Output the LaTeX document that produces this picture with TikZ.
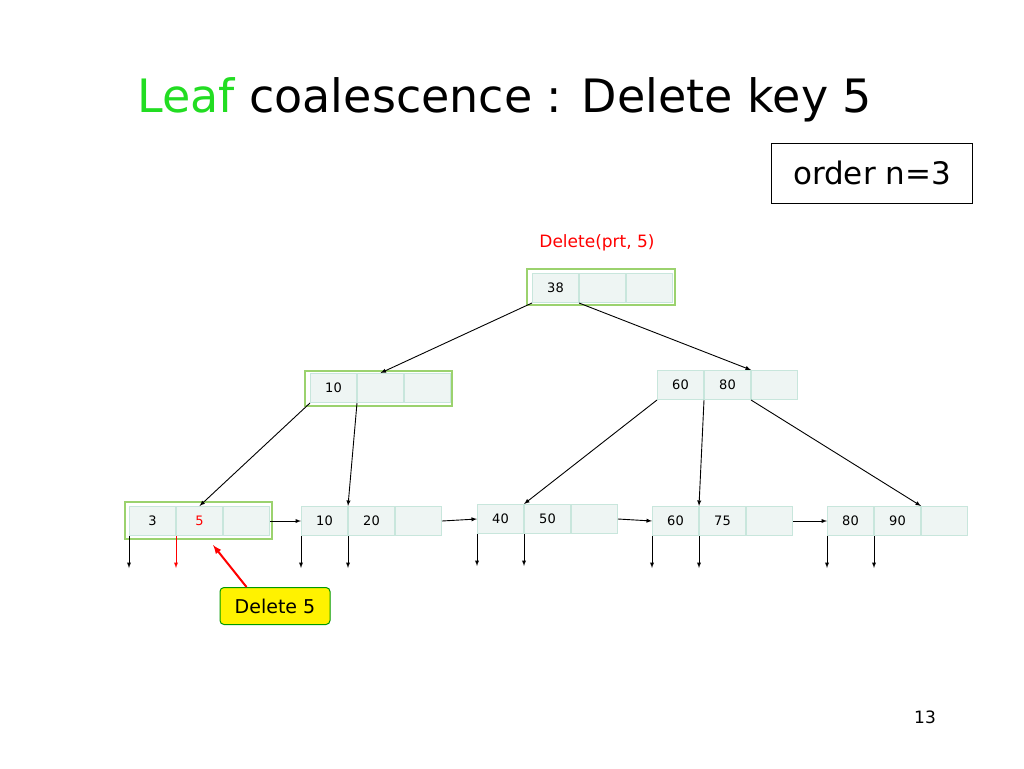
\documentclass[tikz,border=0pt]{standalone}
\usepackage{fontspec}
\setmainfont{DejaVu Sans}
\usetikzlibrary{positioning,calc}
\definecolor{cellfill}{HTML}{EEF5F3}
\definecolor{cellline}{HTML}{C8E6DC}
\definecolor{framegreen}{HTML}{9BD26E}
\definecolor{leafgreen}{HTML}{22DD22}
\tikzset{
  cell/.style={draw=cellline, fill=cellfill, line width=1pt, minimum width=46pt, minimum height=29pt, inner sep=0pt, font=\fontsize{13}{13}\selectfont},
  frame/.style={draw=framegreen, line width=1.2pt},
  ptr/.style={-latex, line width=0.9pt},
}
% three-key node: name, x, y, key1, key2
\newcommand{\keynode}[5]{%
  \node[cell, anchor=north west] (#1-1) at (#2,#3) {#4};
  \node[cell, right=0pt of #1-1] (#1-2) {#5};
  \node[cell, right=0pt of #1-2] (#1-3) {};
}
\begin{document}
\begin{tikzpicture}[x=1pt, y=-1pt]
  \useasboundingbox (0,0) rectangle (1024,768);

  \node[anchor=base west, inner sep=0pt, font=\fontsize{46}{46}\selectfont] (title) at (137,112)
    {\textcolor{leafgreen}{Leaf} coalescence : Delete key 5};
  \node[draw, line width=1pt, minimum width=201pt, minimum height=60pt, font=\fontsize{31}{31}\selectfont] (order) at (872,173) {order n=3};
  \node[text=red, font=\fontsize{17}{17}\selectfont] (call) at (597,243) {Delete(prt, 5)};

  \keynode{root}{532}{273}{38}{}
  \keynode{ina}{310}{373}{10}{}
  \keynode{inb}{657}{370}{60}{80}
  \keynode{la}{129}{506}{3}{\textcolor{red}{5}}
  \keynode{lb}{301}{506}{10}{20}
  \keynode{lc}{477}{504}{40}{50}
  \keynode{ld}{652}{506}{60}{75}
  \keynode{le}{827}{506}{80}{90}

  \draw[frame] (527,269) rectangle (675,305);
  \draw[frame] (305,371) rectangle (452,406);
  \draw[frame] (125,502) rectangle (272,539);

  \draw[ptr] (root-1.south west) -- (ina-2.north);
  \draw[ptr] (root-2.south west) -- (inb-2.north east);
  \draw[ptr] (ina-1.south west) -- (la-2.north);
  \draw[ptr] (ina-2.south west) -- (lb-2.north west);
  \draw[ptr] (inb-1.south west) -- (lc-2.north west);
  \draw[ptr] (inb-2.south west) -- (ld-2.north west);
  \draw[ptr] (inb-3.south west) -- (le-2.north east);

  % sibling links
  \draw[ptr] (la-3.east) -- (lb-1.west);
  \draw[ptr] (lb-3.east) -- (lc-1.west);
  \draw[ptr] (lc-3.east) -- (ld-1.west);
  \draw[ptr] (ld-3.east) -- (le-1.west);

  % record pointers
  \foreach \l in {la,lb,lc,ld,le}{
    \coordinate (\l-p1) at ($(\l-1.south west)+(0,32)$);
    \coordinate (\l-p2) at ($(\l-2.south west)+(0,32)$);
    \draw[ptr] (\l-1.south west) -- (\l-p1);
  }
  \foreach \l in {lb,lc,ld,le}
    \draw[ptr] (\l-2.south west) -- (\l-p2);
  \draw[ptr, red] (la-2.south west) -- (la-p2);

  \node[draw=green!60!black, fill=yellow, rounded corners=4pt, line width=1pt, minimum width=110pt, minimum height=37pt, font=\fontsize{19}{19}\selectfont] (del) at (275,606) {Delete 5};
  \coordinate (deltip) at (213,545);
  \coordinate (delfoot) at ($(del.north west)+(27,0)$);
  \draw[-latex, red, line width=2pt] (delfoot) -- (deltip);

  \node[font=\fontsize{17}{17}\selectfont] (page) at (925,717) {13};
\end{tikzpicture}
\end{document}
